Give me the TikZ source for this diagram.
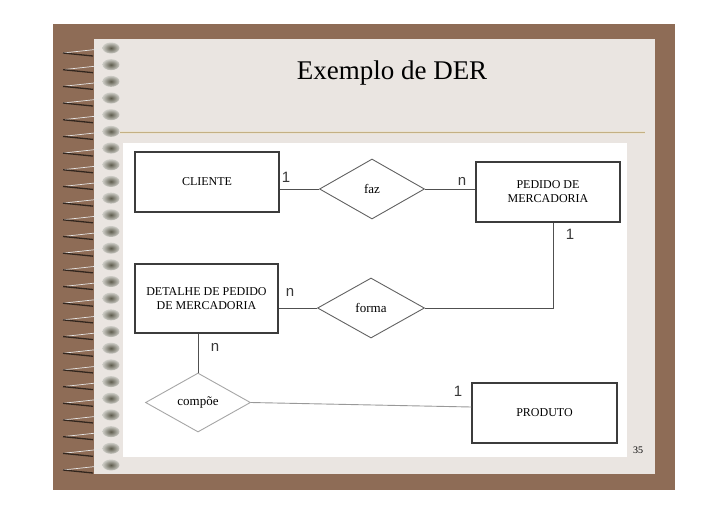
\documentclass[tikz,border=0pt]{standalone}
\usepackage{fontspec}
\setmainfont{Liberation Serif}
\newfontfamily\cardfont{Liberation Sans}
\usetikzlibrary{shapes.geometric}
\definecolor{frame}{RGB}{142,108,86}
\definecolor{paper}{RGB}{234,229,225}
\definecolor{rulecol}{RGB}{196,176,132}
\definecolor{ink}{RGB}{60,60,60}
\definecolor{ringgray}{RGB}{110,108,90}
\begin{document}
\begin{tikzpicture}[x=1pt, y=-1pt,
  entity/.style={draw=ink, line width=1.1pt, align=center, inner sep=0pt, font=\fontsize{12}{14}\selectfont},
  relation/.style={diamond, draw=ink!80, line width=0.9pt, inner sep=0pt, font=\fontsize{13}{15}\selectfont},
  card/.style={text=gray!45!black, font=\cardfont\fontsize{15}{17}\selectfont},
  link/.style={draw=ink!90, line width=0.9pt}]
  \useasboundingbox (0,0) rectangle (728,515);
  \fill[white] (0,0) rectangle (728,515);
  \fill[frame] (53,24) rectangle (675,490);
  \fill[paper] (94,39) rectangle (655,474);
  \fill[white] (123,143) rectangle (627,457);
  \draw[rulecol!35, line width=3pt] (120,132.5) -- (645,132.5);
  \draw[rulecol, line width=0.9pt] (120,132.5) -- (645,132.5);
  \foreach \i in {0,...,25} {
    \pgfmathsetmacro\yy{48+16.68*\i}
    \draw[white!80!gray, line width=0.7pt] (100,\yy+1) -- (63,\yy+5);
    \draw[frame!35!black, line width=1.3pt] (63,\yy+5) -- (93,\yy+8);
    \shade[inner color=ringgray!85!black, outer color=ringgray!35!white] (111,\yy) ellipse (8.5 and 5.5);
  }
  \node[anchor=base, font=\fontsize{27}{30}\selectfont] (title) at (392,79) {Exemplo de DER};
  \node[anchor=base, font=\fontsize{10}{12}\selectfont] (page) at (638,453) {35};

  \node[entity, minimum width=144pt, minimum height=60pt] (cliente) at (207,182) {CLIENTE};
  \node[entity, minimum width=144pt, minimum height=60pt] (pedido) at (548,192) {PEDIDO DE\\MERCADORIA};
  \node[entity, minimum width=143pt, minimum height=69pt] (detalhe) at (206.5,298.5) {DETALHE DE PEDIDO\\DE MERCADORIA};
  \node[entity, minimum width=145pt, minimum height=60pt] (produto) at (544.5,413) {PRODUTO};
  \node[relation, minimum width=105pt, minimum height=60pt] (faz) at (372,189) {faz};
  \node[relation, minimum width=107pt, minimum height=60pt] (forma) at (371,308) {forma};
  \node[relation, draw=gray!70, minimum width=105pt, minimum height=59pt] (compoe) at (198,402.5) {compõe};

  \draw[link] (faz.west) -- (faz.west -| cliente.east);
  \draw[link] (faz.east) -- (faz.east -| pedido.west);
  \draw[link] (forma.west) -- (forma.west -| detalhe.east);
  \draw[link] (forma.east) -| ([xshift=5pt]pedido.south);
  \draw[link] (compoe.north) -- (compoe.north |- detalhe.south);
  \draw[link, draw=gray!80] (compoe.east) -- ([yshift=6pt]produto.west);

  \node[card] (c1) at (286,177) {1};
  \node[card] (c2) at (462,181) {n};
  \node[card] (c3) at (570,234) {1};
  \node[card] (c4) at (290,292) {n};
  \node[card] (c5) at (215,347) {n};
  \node[card] (c6) at (458,391) {1};
\end{tikzpicture}
\end{document}
